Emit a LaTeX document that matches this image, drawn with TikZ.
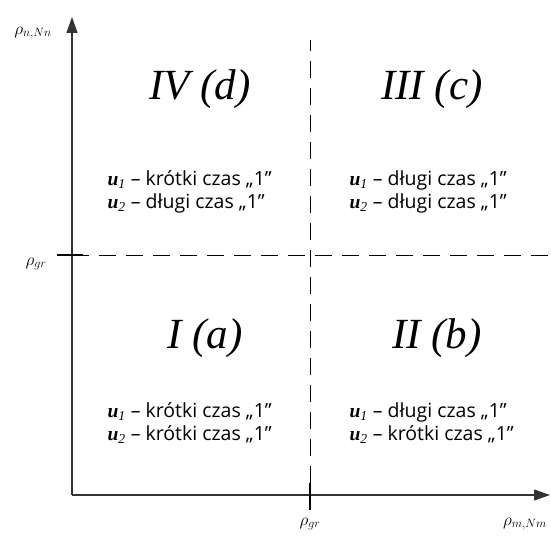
\documentclass[tikz,border=0pt]{standalone}
\usepackage{fontspec}
\usepackage{amsmath}
\setmainfont{Liberation Serif}
\setsansfont{Open Sans}
\usetikzlibrary{arrows.meta}
\newcommand{\uvar}[1]{{\rmfamily\textbf{\textit{u}}\textsubscript{\textit{#1}}}}
\newcommand{\sq}{\symbol{34}}
\begin{document}
\begin{tikzpicture}[x=1pt,y=1pt,
  axisline/.style={line width=1.1pt,black!80,-{Triangle[length=16pt,width=11pt]}},
  gridline/.style={line width=0.8pt,dash pattern=on 17pt off 10pt},
  tickmark/.style={line width=2.6pt},
  quadlabel/.style={font=\fontsize{43}{46}\selectfont\itshape},
  ruletext/.style={font=\sffamily\fontsize{19.5}{23}\selectfont,align=left,anchor=west},
  axislabel/.style={font=\fontsize{18}{20}\selectfont}]
\useasboundingbox (0,0) rectangle (551,536);

% axes
\coordinate (o) at (72,41);
\coordinate (ytip) at (72,519);
\coordinate (xtip) at (550,41);
\draw[axisline] (o) -- (ytip);
\draw[axisline] (o) -- (xtip);

% threshold lines
\coordinate (hl) at (72,281);
\coordinate (hr) at (548,281);
\coordinate (vt) at (310,496);
\coordinate (vb) at (310,53);
\draw[gridline] (hl) -- (hr);
\draw[gridline] (vb) -- (vt);
\draw[tickmark] (57,281) -- (83,281);
\draw[tickmark] (310,53) -- (310,26);

\node[axislabel] (ylab) at (33,503) {$\rho_{n,Nn}$};
\node[axislabel] (grleft) at (36,272) {$\rho_{gr}$};
\node[axislabel] (grbottom) at (310,12) {$\rho_{gr}$};
\node[axislabel] (xlab) at (525,12) {$\rho_{m,Nm}$};

% quadrants
\node[quadlabel] (qIV) at (200,447) {IV (d)};
\node[quadlabel] (qIII) at (432,447) {III (c)};
\node[quadlabel] (qI) at (205,198) {I (a)};
\node[quadlabel] (qII) at (437,198) {II (b)};

\node[ruletext] (tIV) at (104,344) {\uvar{1} – krótki czas „1\sq\\ \uvar{2} – długi czas „1\sq};
\node[ruletext] (tIII) at (346,344) {\uvar{1} – długi czas „1\sq\\ \uvar{2} – długi czas „1\sq};
\node[ruletext] (tI) at (104,113) {\uvar{1} – krótki czas „1\sq\\ \uvar{2} – krótki czas „1\sq};
\node[ruletext] (tII) at (346,113) {\uvar{1} – długi czas „1\sq\\ \uvar{2} – krótki czas „1\sq};
\end{tikzpicture}
\end{document}
